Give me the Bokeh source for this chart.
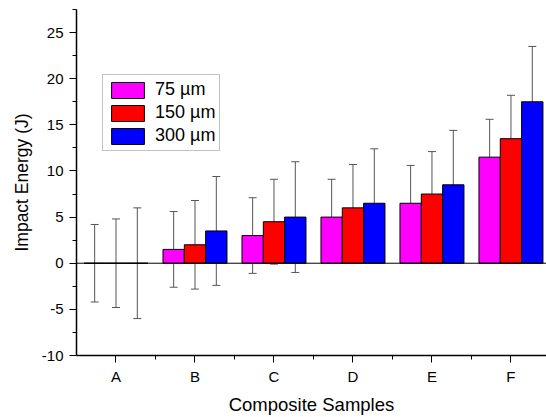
from bokeh.plotting import figure
from bokeh.models import (ColumnDataSource, FixedTicker, Whisker, TeeHead, Span,
                          Legend, LegendItem, Range1d)
from bokeh.transform import dodge
from bokeh.embed import file_html
from bokeh.resources import INLINE

categories = ["A", "B", "C", "D", "E", "F"]
series = ["75 µm", "150 µm", "300 µm"]
v75 = [0.0, 1.5, 3.0, 5.0, 6.5, 11.5]
v150 = [0.0, 2.0, 4.5, 6.0, 7.5, 13.5]
v300 = [0.0, 3.5, 5.0, 6.5, 8.5, 17.5]
e75 = [4.2, 4.1, 4.1, 4.1, 4.1, 4.1]
e150 = [4.8, 4.8, 4.6, 4.7, 4.6, 4.7]
e300 = [6.0, 5.9, 6.0, 5.9, 5.9, 6.0]
y_ticks = [-10, -5, 0, 5, 10, 15, 20, 25]

colors = ["#FF00FF", "#FF0000", "#0000FF"]
offsets = [-0.27, 0.0, 0.27]
FONT = "Liberation Sans"

xs = list(range(1, len(categories) + 1))
data = {"x": xs}
for key, v, e in (("s75", v75, e75), ("s150", v150, e150), ("s300", v300, e300)):
    data[key] = v
    data[key + "_up"] = [a + b for a, b in zip(v, e)]
    data[key + "_lo"] = [a - b for a, b in zip(v, e)]
src = ColumnDataSource(data)

p = figure(width=546, height=417, output_backend="svg", toolbar_location=None,
           x_range=Range1d(0.5, 6.45), y_range=Range1d(-10, 27.5),
           min_border_left=76, min_border_right=0, min_border_top=9,
           min_border_bottom=60)
p.outline_line_color = None
p.grid.visible = False
p.background_fill_color = "white"

renderers = []
for key, col, off in zip(("s75", "s150", "s300"), colors, offsets):
    r = p.vbar(x=dodge("x", off), top=key, bottom=0, width=0.27, source=src,
               fill_color=col, line_color="black", line_width=1)
    renderers.append(r)

p.add_layout(Span(location=0, dimension="width", line_color="black", line_width=1))

for key, off in zip(("s75", "s150", "s300"), offsets):
    w = Whisker(source=src, base=dodge("x", off), upper=key + "_up", lower=key + "_lo",
                line_color="#555555", line_width=1,
                upper_head=TeeHead(size=8, line_color="#555555", line_width=1),
                lower_head=TeeHead(size=8, line_color="#555555", line_width=1))
    p.add_layout(w)

# axes
p.xaxis.ticker = FixedTicker(ticks=xs, minor_ticks=[x + 0.5 for x in xs])
p.xaxis.major_label_overrides = {x: c for x, c in zip(xs, categories)}
p.yaxis.ticker = FixedTicker(ticks=y_ticks,
                             minor_ticks=[t + 2.5 for t in y_ticks])
p.yaxis.major_label_overrides = {t: str(t) for t in y_ticks}
for ax in (p.xaxis[0], p.yaxis[0]):
    ax.axis_line_color = "black"
    ax.axis_line_width = 1.5
    ax.major_tick_line_color = "black"
    ax.minor_tick_line_color = "black"
    ax.major_tick_out = 7
    ax.major_tick_in = 0
    ax.minor_tick_out = 4
    ax.minor_tick_in = 0
    ax.major_label_text_font = FONT
    ax.major_label_text_font_size = "15px"
    ax.major_label_text_color = "black"
    ax.axis_label_text_font = FONT
    ax.axis_label_text_font_style = "normal"
    ax.axis_label_text_color = "black"
p.xaxis.axis_label = "Composite Samples"
p.yaxis.axis_label = "Impact Energy (J)"
p.xaxis.axis_label_text_font_size = "18.5px"
p.yaxis.axis_label_text_font_size = "17.5px"
p.xaxis.major_label_standoff = 5
p.yaxis.major_label_standoff = 6
p.xaxis.axis_label_standoff = 6
p.yaxis.axis_label_standoff = 7

legend = Legend(items=[LegendItem(label=s, renderers=[r]) for s, r in zip(series, renderers)],
                location=(26, 204), orientation="vertical")
legend.label_text_font = FONT
legend.label_text_font_size = "18px"
legend.label_text_color = "black"
legend.glyph_width = 41
legend.glyph_height = 20
legend.label_height = 20
legend.spacing = 2
legend.padding = 4
legend.margin = 0
legend.label_standoff = 7
legend.border_line_color = "#888888"
legend.border_line_width = 1
legend.background_fill_color = "white"
legend.background_fill_alpha = 1
p.add_layout(legend)

open("out.html", "w").write(file_html(p, INLINE))
